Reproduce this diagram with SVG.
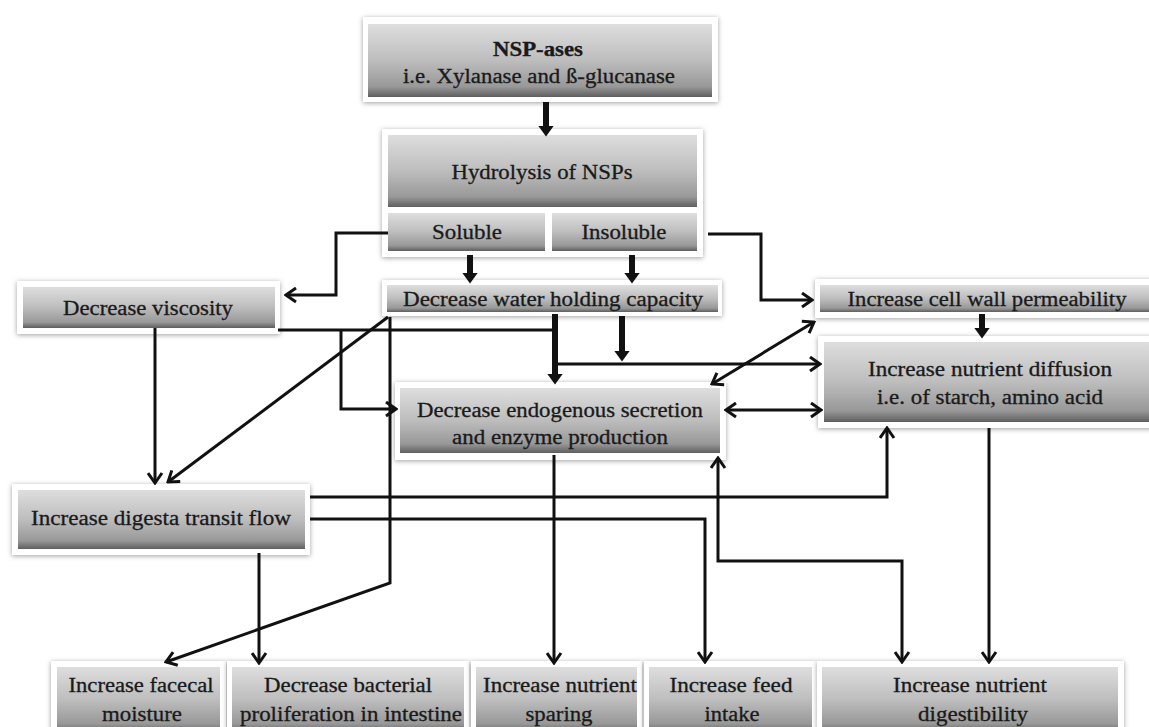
<svg xmlns="http://www.w3.org/2000/svg" width="1149" height="727" viewBox="0 0 1149 727">
<defs>
<linearGradient id="g" x1="0" y1="0" x2="0" y2="1">
<stop offset="0" stop-color="#dedede"/>
<stop offset="0.5" stop-color="#bdbdbd"/>
<stop offset="0.86" stop-color="#989898"/>
<stop offset="1" stop-color="#5e5e5e"/>
</linearGradient>
<filter id="sh" x="-10%" y="-30%" width="120%" height="160%">
<feDropShadow dx="0" dy="1" stdDeviation="2.5" flood-color="#777" flood-opacity="0.7"/>
</filter>
<marker id="a" viewBox="0 0 14 17" refX="12" refY="8.5" markerWidth="14" markerHeight="17" markerUnits="userSpaceOnUse" orient="auto-start-reverse">
<path d="M2,1.5 L12,8.5 L2,15.5" fill="none" stroke="#111" stroke-width="3"/>
</marker>
<marker id="f" viewBox="0 0 11 16" refX="0.5" refY="8" markerWidth="11" markerHeight="16" markerUnits="userSpaceOnUse" orient="auto">
<path d="M0,0 L11,8 L0,16 Z" fill="#111"/>
</marker>
</defs>
<style>
.frame{fill:#fff;filter:url(#sh)}
.box{fill:url(#g)}
.t{font-family:"Liberation Serif","Times New Roman",serif;font-size:20px;fill:#1a1a1a;text-anchor:middle;stroke:#1a1a1a;stroke-width:0.3}
.b{font-weight:bold}
.c{fill:none;stroke:#111;stroke-width:3}
.k{stroke-width:6}
</style>
<rect width="1149" height="727" fill="#fff"/>

<g id="nsp-ases">
<rect class="frame" x="363" y="17" width="355" height="85"/>
<rect class="box" x="368" y="24" width="344" height="73"/>
<text class="t b" x="538" y="56" textLength="90" lengthAdjust="spacingAndGlyphs">NSP-ases</text>
<text class="t" x="539" y="83" textLength="272" lengthAdjust="spacingAndGlyphs">i.e. Xylanase and ß-glucanase</text>
</g>

<g id="hydrolysis">
<rect class="frame" x="382" y="129" width="321" height="128"/>
<rect class="box" x="388" y="135" width="309" height="72"/>
<text class="t" x="542" y="179" textLength="181" lengthAdjust="spacingAndGlyphs">Hydrolysis of NSPs</text>
</g>

<g id="soluble">
<rect class="box" x="388" y="213" width="157" height="38"/>
<text class="t" x="467" y="239" textLength="70" lengthAdjust="spacingAndGlyphs">Soluble</text>
</g>

<g id="insoluble">
<rect class="box" x="552" y="213" width="145" height="38"/>
<text class="t" x="624" y="239" textLength="85" lengthAdjust="spacingAndGlyphs">Insoluble</text>
</g>

<g id="water-holding">
<rect class="frame" x="382" y="280" width="340" height="36"/>
<rect class="box" x="387" y="285" width="331" height="27"/>
<text class="t" x="553" y="306" textLength="300" lengthAdjust="spacingAndGlyphs">Decrease water holding capacity</text>
</g>

<g id="viscosity">
<rect class="frame" x="17" y="281" width="263" height="53"/>
<rect class="box" x="23" y="287" width="252" height="41"/>
<text class="t" x="148" y="315" textLength="170" lengthAdjust="spacingAndGlyphs">Decrease viscosity</text>
</g>

<g id="cell-wall">
<rect class="frame" x="815" y="279" width="340" height="39"/>
<rect class="box" x="820" y="285" width="335" height="27"/>
<text class="t" x="987" y="306" textLength="279" lengthAdjust="spacingAndGlyphs">Increase cell wall permeability</text>
</g>

<g id="nutrient-diffusion">
<rect class="frame" x="818" y="336" width="340" height="92"/>
<rect class="box" x="824" y="342" width="330" height="80"/>
<text class="t" x="990" y="376" textLength="244" lengthAdjust="spacingAndGlyphs">Increase nutrient diffusion</text>
<text class="t" x="990" y="404" textLength="226" lengthAdjust="spacingAndGlyphs">i.e. of starch, amino acid</text>
</g>

<g id="endogenous">
<rect class="frame" x="395" y="382" width="331" height="78"/>
<rect class="box" x="400" y="388" width="320" height="65"/>
<text class="t" x="560" y="417" textLength="286" lengthAdjust="spacingAndGlyphs">Decrease endogenous secretion</text>
<text class="t" x="560" y="444" textLength="216" lengthAdjust="spacingAndGlyphs">and enzyme production</text>
</g>

<g id="digesta">
<rect class="frame" x="12" y="484" width="298" height="71"/>
<rect class="box" x="18" y="490" width="287" height="59"/>
<text class="t" x="161" y="525" textLength="260" lengthAdjust="spacingAndGlyphs">Increase digesta transit flow</text>
</g>

<g id="faecal">
<rect class="frame" x="51" y="661" width="175" height="75"/>
<rect class="box" x="57" y="667" width="163" height="66"/>
<text class="t" x="141" y="692" textLength="145" lengthAdjust="spacingAndGlyphs">Increase facecal</text>
<text class="t" x="142" y="721" textLength="80" lengthAdjust="spacingAndGlyphs">moisture</text>
</g>

<g id="bacterial">
<rect class="frame" x="227" y="661" width="242" height="75"/>
<rect class="box" x="232" y="667" width="232" height="66"/>
<text class="t" x="348" y="692" textLength="168" lengthAdjust="spacingAndGlyphs">Decrease bacterial</text>
<text class="t" x="351" y="721" textLength="222" lengthAdjust="spacingAndGlyphs">proliferation in intestine</text>
</g>

<g id="sparing">
<rect class="frame" x="471" y="661" width="171" height="75"/>
<rect class="box" x="476" y="667" width="161" height="66"/>
<text class="t" x="560" y="692" textLength="154" lengthAdjust="spacingAndGlyphs">Increase nutrient</text>
<text class="t" x="559" y="721" textLength="67" lengthAdjust="spacingAndGlyphs">sparing</text>
</g>

<g id="feed-intake">
<rect class="frame" x="644" y="661" width="173" height="75"/>
<rect class="box" x="649" y="667" width="163" height="66"/>
<text class="t" x="731" y="692" textLength="123" lengthAdjust="spacingAndGlyphs">Increase feed</text>
<text class="t" x="732" y="721" textLength="55" lengthAdjust="spacingAndGlyphs">intake</text>
</g>

<g id="digestibility">
<rect class="frame" x="817" y="661" width="307" height="75"/>
<rect class="box" x="822" y="667" width="296" height="66"/>
<text class="t" x="970" y="692" textLength="154" lengthAdjust="spacingAndGlyphs">Increase nutrient</text>
<text class="t" x="973" y="721" textLength="110" lengthAdjust="spacingAndGlyphs">digestibility</text>
</g>

<g id="connectors">
<path class="c k" d="M546,102 V126" marker-end="url(#f)"/>
<path class="c" d="M388,233 H336 V295 H286" marker-end="url(#a)"/>
<path class="c" d="M708,234 H761 V300 H812" marker-end="url(#a)"/>
<path class="c k" d="M470,255 V273" marker-end="url(#f)"/>
<path class="c k" d="M632,255 V273" marker-end="url(#f)"/>
<path class="c" d="M278,330 H555"/>
<path class="c k" d="M555,314 V374" marker-end="url(#f)"/>
<path class="c" d="M555,364 H820" marker-end="url(#a)"/>
<path class="c k" d="M622,316 V351" marker-end="url(#f)"/>
<path class="c" d="M341,330 V409 H396" marker-end="url(#a)"/>
<path class="c" d="M388,317 L168,482" marker-end="url(#a)"/>
<path class="c" d="M390,317 V583 L166,662" marker-end="url(#a)"/>
<path class="c" d="M155,328 V483" marker-end="url(#a)"/>
<path class="c" d="M310,497 H887 V428" marker-end="url(#a)"/>
<path class="c" d="M310,519 H705 V662" marker-end="url(#a)"/>
<path class="c" d="M259,553 V663" marker-end="url(#a)"/>
<path class="c" d="M554,455 V663" marker-end="url(#a)"/>
<path class="c" d="M718,458 V561 H902 V662" marker-start="url(#a)" marker-end="url(#a)"/>
<path class="c" d="M989,428 V662" marker-end="url(#a)"/>
<path class="c k" d="M982,314 V328" marker-end="url(#f)"/>
<path class="c" d="M712,384 L814,322" marker-start="url(#a)" marker-end="url(#a)"/>
<path class="c" d="M726,410 H821" marker-start="url(#a)" marker-end="url(#a)"/>
</g>
</svg>
